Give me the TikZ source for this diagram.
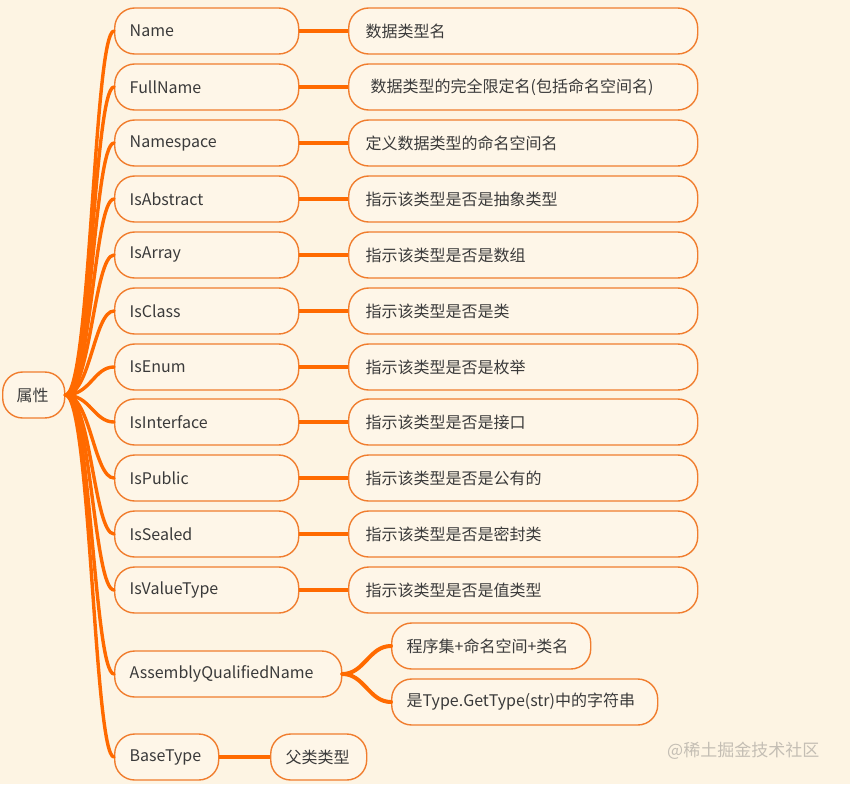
\documentclass[tikz,border=0pt]{standalone}
\usepackage{fontspec}
\newfontfamily\cjk{Noto Sans CJK SC}
\definecolor{bg}{HTML}{FDF4E3}
\definecolor{boxfill}{HTML}{FEF6E8}
\definecolor{bord}{HTML}{F07D2E}
\definecolor{conn}{HTML}{FF6A00}
\definecolor{txt}{HTML}{3A3A3A}
\definecolor{wm}{HTML}{C4BEB4}
\begin{document}
\begin{tikzpicture}[x=1pt,y=-1pt,
  mbox/.style={draw=bord, line width=1.4pt, fill=boxfill, rounded corners=20pt,
    minimum height=46pt, inner xsep=15pt, inner ysep=0pt, text=txt,
    font=\cjk\fontsize{16}{19}\selectfont, align=left, anchor=west},
  lvtwo/.style={mbox, inner xsep=17pt, text width=315pt},
  lvone/.style={mbox, text width=154pt},
  trunk/.style={draw=conn, line width=3.4pt, line cap=round},
  twig/.style={draw=conn, line width=4.2pt}
]
\useasboundingbox[fill=bg] (0,0) rectangle (850,784);

% root
\node[mbox, inner xsep=14pt, text width=34pt] (root) at (2,395) {属性};

% level 1
\node[lvone] (a1) at (114,31) {Name};
\node[lvone] (a2) at (114,87) {FullName};
\node[lvone] (a3) at (114,143) {Namespace};
\node[lvone] (a4) at (114,199) {IsAbstract};
\node[lvone] (a5) at (114,255) {IsArray};
\node[lvone] (a6) at (114,311) {IsClass};
\node[lvone] (a7) at (114,367) {IsEnum};
\node[lvone] (a8) at (114,422) {IsInterface};
\node[lvone] (a9) at (114,478) {IsPublic};
\node[lvone] (a10) at (114,534) {IsSealed};
\node[lvone] (a11) at (114,590) {IsValueType};
\node[mbox, text width=197pt] (a12) at (114,674) {AssemblyQualifiedName};
\node[mbox, text width=74pt] (a13) at (114,757) {BaseType};

% level 2
\node[lvtwo] (b1) at (348,31) {数据类型名};
\node[lvtwo] (b2) at (348,87) {\hspace*{5pt}数据类型的完全限定名(包括命名空间名)};
\node[lvtwo] (b3) at (348,143) {定义数据类型的命名空间名};
\node[lvtwo] (b4) at (348,199) {指示该类型是否是抽象类型};
\node[lvtwo] (b5) at (348,255) {指示该类型是否是数组};
\node[lvtwo] (b6) at (348,311) {指示该类型是否是类};
\node[lvtwo] (b7) at (348,367) {指示该类型是否是枚举};
\node[lvtwo] (b8) at (348,422) {指示该类型是否是接口};
\node[lvtwo] (b9) at (348,478) {指示该类型是否是公有的};
\node[lvtwo] (b10) at (348,534) {指示该类型是否是密封类};
\node[lvtwo] (b11) at (348,590) {指示该类型是否是值类型};
\node[mbox, text width=169pt] (c1) at (391,646) {程序集+命名空间+类名};
\node[mbox, text width=236pt] (c2) at (391,702) {是Type.GetType(str)中的字符串};
\node[mbox, text width=66pt] (d1) at (270,757) {父类类型};

% root connectors
\foreach \i in {1,...,13}{
  \draw[trunk] (root.east) .. controls +(25,0) and +(-20,0) .. (a\i.west);
}
% level1 -> level2
\foreach \i in {1,...,11}{
  \draw[twig] (a\i.east) -- (b\i.west);
}
\draw[twig] (a13.east) -- (d1.west);
\draw[trunk, line width=4pt] (a12.east) .. controls +(22,0) and +(-22,0) .. (c1.west);
\draw[trunk, line width=4pt] (a12.east) .. controls +(22,0) and +(-22,0) .. (c2.west);

% watermark
\node[anchor=west, text=wm, font=\cjk\fontsize{17}{20}\selectfont, inner sep=0pt] (wmk) at (667,751) {@稀土掘金技术社区};
\end{tikzpicture}
\end{document}
